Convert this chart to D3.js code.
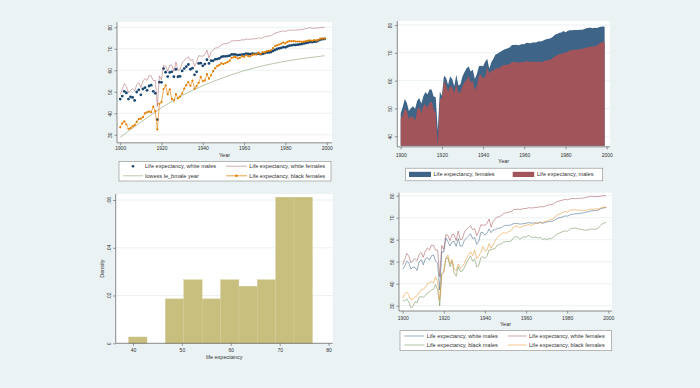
<!DOCTYPE html>
<html><head><meta charset="utf-8">
<script src="https://cdn.jsdelivr.net/npm/d3@7"></script>
<style>
html,body{margin:0;padding:0;background:#eaf2f3;}
svg{display:block;}
text{font-family:"Liberation Sans",Arial,Helvetica,sans-serif;}
</style></head><body>
<svg id="c" width="700" height="388"></svg>
<script>
// ---------------- DATA ----------------
const years = d3.range(1900, 2000);
const leMale = [46.3,47.6,49.8,49.1,46.2,47.3,46.9,45.6,49.5,50.5,48.4,50.9,51.5,50.3,52.0,52.5,49.6,48.4,36.6,53.5,
53.6,60.0,58.4,56.1,58.1,57.6,55.5,59.0,55.6,55.8,58.1,59.4,60.3,61.7,59.3,59.9,56.6,58.0,61.9,62.1,
60.8,61.4,64.7,62.6,63.6,63.6,64.4,64.4,64.6,65.2,65.6,65.6,65.8,66.0,66.7,66.7,66.7,66.4,66.6,66.8,
66.6,67.1,66.9,66.7,67.0,66.8,66.7,67.0,66.6,66.8,67.1,67.4,67.4,67.6,68.2,68.8,69.1,69.5,69.6,70.0,
70.0,70.4,70.8,71.0,71.1,71.1,71.2,71.4,71.4,71.7,71.8,72.0,72.3,72.2,72.4,72.5,73.1,73.6,73.8,73.9];
const leFemale = [48.3,50.6,53.4,52.0,49.1,50.2,50.8,49.9,52.8,53.8,51.8,54.4,55.9,55.0,56.8,56.8,54.3,54.0,42.2,56.0,
54.6,61.8,61.0,58.5,61.5,60.6,58.0,62.1,58.3,58.7,61.6,63.1,64.5,65.1,63.3,63.9,60.6,62.4,65.3,65.4,
65.2,66.8,67.9,64.4,66.6,67.9,69.4,69.7,70.2,70.7,71.1,71.4,71.6,72.0,72.8,72.8,72.9,72.7,72.9,73.2,
73.1,73.6,73.5,73.4,73.7,73.7,73.8,74.2,74.1,74.3,74.7,75.0,75.1,75.3,75.9,76.6,76.8,77.2,77.3,77.8,
77.4,77.8,78.1,78.1,78.2,78.2,78.2,78.3,78.3,78.5,78.8,78.9,79.1,78.8,79.0,78.9,79.1,79.4,79.5,79.4];
const leWMale = [46.6,48.0,50.2,49.5,46.6,47.6,47.4,46.0,49.9,50.9,48.6,51.3,51.9,50.7,52.7,53.1,50.2,49.3,37.1,54.5,
54.4,60.8,59.1,57.1,59.0,59.3,57.0,60.5,57.0,57.2,59.7,60.8,61.7,62.7,60.5,61.0,57.9,59.3,63.2,63.3,
62.1,62.9,64.9,63.2,64.5,64.4,65.1,65.2,65.5,66.2,66.5,66.5,66.6,66.8,67.4,67.4,67.3,67.1,67.2,67.3,
67.4,67.8,67.6,67.5,67.7,67.6,67.6,67.8,67.5,67.7,68.0,68.3,68.3,68.5,69.0,69.5,69.9,70.2,70.4,70.8,
70.7,71.1,71.5,71.6,71.8,71.8,71.9,72.1,72.2,72.5,72.7,72.9,73.2,73.1,73.3,73.4,73.9,74.3,74.5,74.6];
const leWFemale = [48.7,51.0,53.8,52.5,49.5,50.6,51.4,50.5,53.3,54.2,52.0,54.9,56.2,55.3,57.5,57.4,55.2,55.3,43.2,57.4,
55.6,62.4,61.9,59.6,62.4,62.4,59.6,63.9,60.0,60.3,63.5,64.7,65.5,66.3,64.6,65.0,61.9,63.8,66.8,66.6,
66.6,67.3,69.4,65.7,68.4,69.5,70.3,70.5,71.0,71.9,72.2,72.4,72.6,73.0,73.7,73.7,73.9,73.7,73.9,74.2,
74.1,74.5,74.5,74.4,74.6,74.7,74.7,75.1,74.9,75.1,75.6,75.8,75.9,76.1,76.7,77.3,77.5,77.9,78.0,78.4,
78.1,78.4,78.7,78.7,78.7,78.7,78.8,78.9,78.9,79.2,79.4,79.6,79.8,79.5,79.6,79.6,79.7,79.9,80.0,79.9];
const leBMale = [32.5,32.2,33.1,31.5,29.1,29.6,31.8,31.4,33.8,34.2,33.8,34.6,35.9,36.3,37.1,37.5,39.6,37.0,29.9,44.5,
45.5,51.6,51.8,47.7,50.1,44.9,43.4,47.6,45.6,45.7,47.3,49.5,51.2,52.7,50.2,51.3,47.6,48.3,51.7,52.3,
51.5,52.5,55.4,55.4,55.8,56.1,57.5,57.9,58.1,58.9,59.1,59.2,59.1,59.7,61.0,61.4,61.1,60.3,60.8,61.3,
61.1,61.9,61.5,60.9,61.1,61.1,60.7,61.1,60.1,60.5,60.0,60.5,60.4,60.9,61.7,62.4,62.9,63.4,63.7,64.0,
63.8,64.5,65.1,65.2,65.3,65.0,64.8,64.7,64.4,64.3,64.5,64.6,65.0,64.6,64.9,65.2,66.1,67.2,67.6,67.8];
const leBFemale = [33.5,35.3,36.2,34.8,32.7,33.1,33.9,34.5,36.0,37.3,37.5,38.2,40.0,40.5,40.8,40.5,43.1,41.0,32.5,44.4,
45.2,51.3,53.0,48.9,51.1,46.7,45.9,48.9,47.0,47.8,49.2,51.5,53.1,54.5,52.8,55.2,51.4,52.6,54.2,56.9,
54.9,55.3,58.2,56.1,57.7,59.6,61.0,61.9,62.5,63.2,62.9,63.4,63.8,64.5,65.8,66.1,66.1,65.5,65.8,66.5,
66.3,67.0,66.6,66.5,67.2,67.4,67.4,68.2,67.5,68.4,68.3,68.9,69.1,69.3,70.3,71.3,71.6,72.0,72.4,72.9,
72.5,73.2,73.6,73.5,73.6,73.4,73.4,73.4,73.2,73.3,73.6,73.8,73.9,73.7,74.1,73.9,74.2,74.7,74.8,74.7];
// lowess of black-male life expectancy
const lowessYears = [1900,1905,1910,1915,1920,1925,1930,1935,1940,1945,1950,1955,1960,1965,1970,1975,1980,1985,1990,1995,1999];
const lowessBMale = [28.8,32.4,35.9,39.3,42.6,45.6,48.3,50.7,52.8,54.8,56.6,58.3,59.8,61.1,62.3,63.3,64.2,65.0,65.7,66.3,66.8];
// histogram of life expectancy (density)
const histEdges = [39.1,42.86,46.62,50.38,54.14,57.9,61.66,65.42,69.18,72.94,76.7];
const histDensity = [0.00266,0,0.0186,0.0266,0.0186,0.0266,0.0239,0.0266,0.0612,0.0612];
// ticks
const yearTicks = [1900,1920,1940,1960,1980,2000];
const leTicks30 = [30,40,50,60,70,80];
const leTicks40 = [40,50,60,70,80];
const densTicks = [0,0.02,0.04,0.06];
const histXTicks = [40,50,60,70,80];

// ---------------- STYLE ----------------
const C = {navy:"#1a476f", maroon:"#90353b", green:"#55752f", orange:"#e37e00",
           navyA:"#3e6587", maroonA:"#a1555a", khaki:"#c8bf7e"};
const svg = d3.select("#c");
const AX = "#5a5a5a";

function panel(p){
  const g = svg.append("g");
  g.append("rect").attr("x",p.x0).attr("y",p.y0).attr("width",p.x1-p.x0).attr("height",p.y1-p.y0).attr("fill","#fff");
  g.selectAll("line.grid").data(p.yTicks.filter(t => p.y(t) < p.y1-1)).join("line").attr("class","grid")
    .attr("x1",p.x0).attr("x2",p.x1).attr("y1",d=>p.y(d)).attr("y2",d=>p.y(d))
    .attr("stroke","#e3ebee").attr("stroke-width",0.7);
  p.g = g;
  p.marks = g.append("g");
  return p;
}
function axes(p){
  const g = p.g;
  const ya = g.append("g").attr("transform",`translate(${p.x0},0)`)
    .call(d3.axisLeft(p.y).tickValues(p.yTicks).tickFormat(p.yFmt).tickSize(2.6).tickSizeOuter(0));
  ya.select(".domain").remove();
  ya.selectAll(".tick line").attr("stroke",AX).attr("stroke-width",0.6);
  ya.selectAll(".tick text").attr("x",0).attr("dy",0).attr("text-anchor","middle")
    .attr("transform","translate(-5.2,0) rotate(-90)").attr("font-size",5).attr("fill","#333")
    .style("font-family",'"Liberation Sans",Arial,sans-serif');
  g.append("line").attr("x1",p.x0).attr("x2",p.x0).attr("y1",p.y0).attr("y2",p.y1).attr("stroke",AX).attr("stroke-width",0.7);
  const xa = g.append("g").attr("transform",`translate(0,${p.y1})`)
    .call(d3.axisBottom(p.x).tickValues(p.xTicks).tickFormat(d3.format("d")).tickSize(2.6).tickSizeOuter(0));
  xa.select(".domain").remove();
  xa.selectAll(".tick line").attr("stroke",AX).attr("stroke-width",0.6);
  xa.selectAll(".tick text").attr("y",p.xLabOff).attr("dy",0).attr("font-size",5).attr("fill","#333")
    .style("font-family",'"Liberation Sans",Arial,sans-serif');
  g.append("line").attr("x1",p.x0).attr("x2",p.x1).attr("y1",p.y1).attr("y2",p.y1).attr("stroke",AX).attr("stroke-width",0.7);
  g.append("text").attr("x",(p.x0+p.x1)/2).attr("y",p.y1+p.xTitleOff).attr("text-anchor","middle")
    .attr("font-size",5.5).attr("fill","#333").text(p.xTitle);
  if (p.yTitle) {
    g.append("text").attr("transform",`translate(${p.yTitleX},${(p.y0+p.y1)/2}) rotate(-90)`)
      .attr("text-anchor","middle").attr("font-size",5.5).attr("fill","#333").text(p.yTitle);
  }
}
function legend(box, items){
  const g = svg.append("g");
  g.append("rect").attr("x",box.x).attr("y",box.y).attr("width",box.w).attr("height",box.h)
    .attr("fill","#fff").attr("stroke","#8a8a8a").attr("stroke-width",0.6);
  g.append("clipPath").attr("id","clip"+box.id).append("rect")
    .attr("x",box.x).attr("y",box.y).attr("width",box.w).attr("height",box.h);
  const inner = g.append("g").attr("clip-path",`url(#clip${box.id})`);
  items.forEach(it => {
    if (it.kind==="line" || it.kind==="connected") {
      inner.append("line").attr("x1",it.kx).attr("x2",it.kx+it.kw).attr("y1",it.y).attr("y2",it.y)
        .attr("stroke",it.color).attr("stroke-width",it.sw||0.9).attr("stroke-opacity",it.op||1);
    }
    if (it.kind==="marker" || it.kind==="connected") {
      inner.append("circle").attr("cx",it.kx+it.kw/2).attr("cy",it.y).attr("r",1.3).attr("fill",it.color);
    }
    if (it.kind==="box") {
      inner.append("rect").attr("x",it.kx).attr("y",it.y-2.6).attr("width",it.kw).attr("height",5.2).attr("fill",it.color);
    }
    inner.append("text").attr("x",it.tx).attr("y",it.y+1.9).attr("font-size",5.6).attr("fill","#333").text(it.label);
  });
}

// ---------------- TOP LEFT ----------------
const TL = panel({x0:117,x1:332,y0:22,y1:142.8,
  x:d3.scaleLinear().domain([1900,2000]).range([120.2,326.7]),
  y:d3.scaleLinear().domain([30,80]).range([134.8,27.3]),
  yTicks:leTicks30, xTicks:yearTicks, yFmt:d3.format("d"), xLabOff:6.8, xTitleOff:13.8, xTitle:"Year"});
TL.marks.selectAll("circle.wm").data(years).join("circle").attr("class","wm")
  .attr("cx",(d,i)=>TL.x(d)).attr("cy",(d,i)=>TL.y(leWMale[i])).attr("r",1.4).attr("fill",C.navy);
TL.marks.append("path").datum(years).attr("fill","none").attr("stroke",C.maroon).attr("stroke-opacity",0.45).attr("stroke-width",0.9)
  .attr("d",d3.line().x(d=>TL.x(d)).y((d,i)=>TL.y(leWFemale[i])));
TL.marks.append("path").datum(lowessYears).attr("fill","none").attr("stroke",C.green).attr("stroke-opacity",0.45).attr("stroke-width",0.9)
  .attr("d",d3.line().curve(d3.curveMonotoneX).x(d=>TL.x(d)).y((d,i)=>TL.y(lowessBMale[i])));
TL.marks.append("path").datum(years).attr("fill","none").attr("stroke",C.orange).attr("stroke-opacity",0.8).attr("stroke-width",0.8)
  .attr("d",d3.line().x(d=>TL.x(d)).y((d,i)=>TL.y(leBFemale[i])));
TL.marks.selectAll("circle.bf").data(years).join("circle").attr("class","bf")
  .attr("cx",d=>TL.x(d)).attr("cy",(d,i)=>TL.y(leBFemale[i])).attr("r",1.1).attr("fill",C.orange);
axes(TL);
legend({id:1,x:119,y:161.5,w:212,h:19.5},[
  {kind:"marker",color:C.navy,kx:123,kw:20,tx:145,y:166.2,label:"Life expectancy, white males"},
  {kind:"line",color:C.maroon,op:0.45,kx:226,kw:21,tx:249.3,y:166.2,label:"Life expectancy, white females"},
  {kind:"line",color:C.green,op:0.45,kx:123,kw:20,tx:145,y:175.8,label:"lowess le_bmale year"},
  {kind:"connected",color:C.orange,op:0.8,kx:226,kw:21,tx:249.3,y:175.8,label:"Life expectancy, black females"}
]);

// ---------------- TOP RIGHT ----------------
const TR = panel({x0:397.3,x1:610,y0:21,y1:146.8,
  x:d3.scaleLinear().domain([1900,2000]).range([400.7,606.7]),
  y:d3.scaleLinear().domain([40,80]).range([136.3,25]),
  yTicks:leTicks40, xTicks:yearTicks, yFmt:d3.format("d"), xLabOff:10.2, xTitleOff:16.4, xTitle:"Year"});
const areaBase = d3.min(leMale);
TR.marks.append("path").datum(years).attr("fill",C.navyA)
  .attr("d",d3.area().x(d=>TR.x(d)).y0(TR.y(areaBase)).y1((d,i)=>TR.y(leFemale[i])));
TR.marks.append("path").datum(years).attr("fill",C.maroonA)
  .attr("d",d3.area().x(d=>TR.x(d)).y0(TR.y(areaBase)).y1((d,i)=>TR.y(leMale[i])));
axes(TR);
legend({id:2,x:405.7,y:168.2,w:197,h:12.6},[
  {kind:"box",color:C.navyA,kx:409,kw:22,tx:433.5,y:174.4,label:"Life expectancy, females"},
  {kind:"box",color:C.maroonA,kx:512.7,kw:21.5,tx:537,y:174.4,label:"Life expectancy, males"}
]);

// ---------------- BOTTOM LEFT ----------------
const BL = panel({x0:115.7,x1:332.7,y0:194,y1:343.3,
  x:d3.scaleLinear().domain([40,80]).range([133,328.6]),
  y:d3.scaleLinear().domain([0,0.06]).range([343.3,200]),
  yTicks:densTicks, xTicks:histXTicks, yFmt:d=> d===0 ? "0" : d3.format(".2f")(d).replace(/^0/,""),
  xLabOff:8.5, xTitleOff:15.4, xTitle:"life expectancy", yTitle:"Density", yTitleX:103.6});
BL.marks.selectAll("rect.bar").data(histDensity).join("rect").attr("class","bar")
  .attr("x",(d,i)=>BL.x(histEdges[i])).attr("width",(d,i)=>BL.x(histEdges[i+1])-BL.x(histEdges[i]))
  .attr("y",d=>BL.y(d)).attr("height",d=>BL.y(0)-BL.y(d))
  .attr("fill",C.khaki).attr("stroke",d=>d>0?"#d2cb98":"none").attr("stroke-width",0.4);
axes(BL);

// ---------------- BOTTOM RIGHT ----------------
const BR = panel({x0:399,x1:612,y0:192.7,y1:311,
  x:d3.scaleLinear().domain([1900,2000]).range([402.7,608.3]),
  y:d3.scaleLinear().domain([30,80]).range([305.7,195.7]),
  yTicks:leTicks30, xTicks:yearTicks, yFmt:d3.format("d"), xLabOff:8.5, xTitleOff:15, xTitle:"Year"});
const brSeries = [[leWMale,C.navy],[leWFemale,C.maroon],[leBMale,C.green],[leBFemale,C.orange]];
brSeries.forEach(([vals,col]) => {
  BR.marks.append("path").datum(years).attr("fill","none").attr("stroke",col).attr("stroke-opacity",0.5).attr("stroke-width",0.9)
    .attr("d",d3.line().x(d=>BR.x(d)).y((d,i)=>BR.y(vals[i])));
});
axes(BR);
legend({id:3,x:400,y:330.7,w:211.7,h:20},[
  {kind:"line",color:C.navy,op:0.5,kx:404.3,kw:20,tx:426.7,y:336,label:"Life expectancy, white males"},
  {kind:"line",color:C.maroon,op:0.5,kx:507.7,kw:19,tx:529,y:336,label:"Life expectancy, white females"},
  {kind:"line",color:C.green,op:0.5,kx:404.3,kw:20,tx:426.7,y:345,label:"Life expectancy, black males"},
  {kind:"line",color:C.orange,op:0.5,kx:507.7,kw:19,tx:529,y:345,label:"Life expectancy, black females"}
]);
</script>
</body></html>
